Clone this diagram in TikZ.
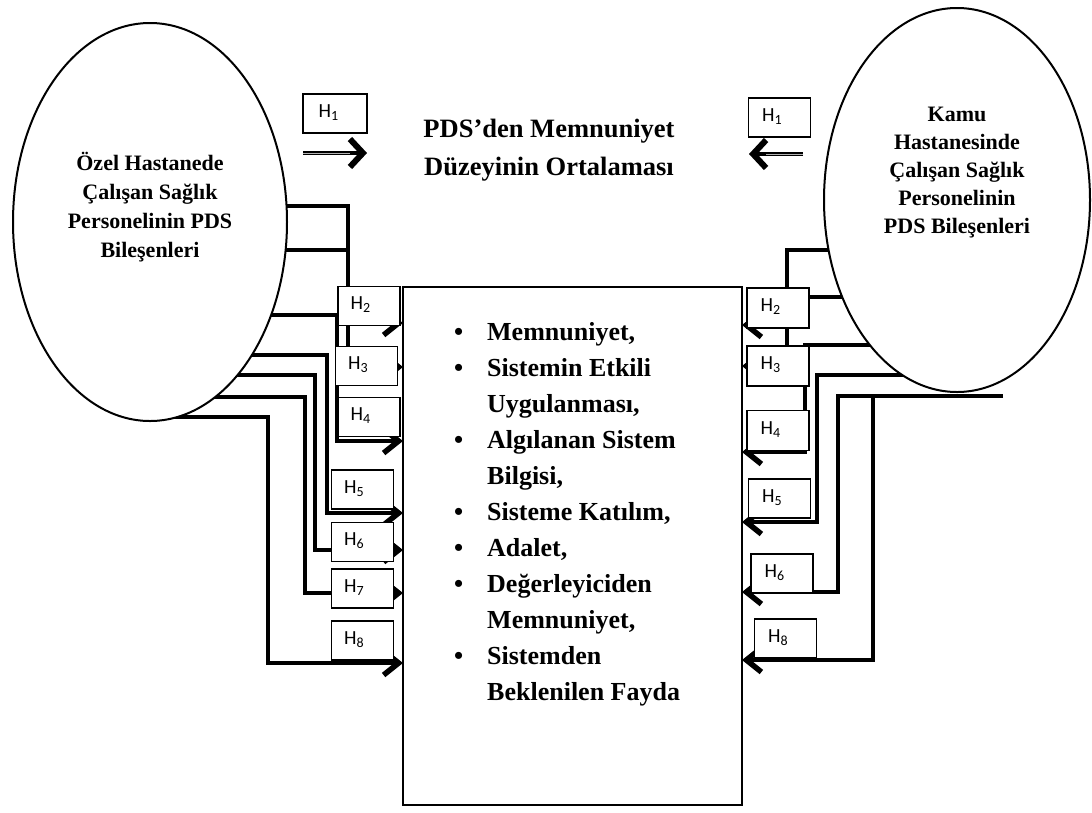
\documentclass[tikz,border=0pt]{standalone}
\usepackage{fontspec}
\setmainfont{Liberation Serif}
\newfontfamily\calib{Carlito}
\usetikzlibrary{arrows.meta,shapes.geometric}
\begin{document}
\begin{tikzpicture}[x=1pt,y=-1pt,
  conn/.style={line width=3.6pt, line join=miter},
  arr/.style={conn, -{Straight Barb[length=15pt,width=24pt,line width=5.5pt 0]}},
  hbox/.style={draw, line width=1.3pt, fill=white, minimum width=62pt, minimum height=39pt, inner sep=0pt},
  hlab/.style={anchor=west, inner sep=0pt, font=\calib\fontsize{20}{20}\selectfont},
  oval/.style={ellipse, draw, line width=2pt, fill=white, inner sep=0pt},
  bigtxt/.style={align=center, inner sep=0pt},
  harr/.style={line width=4.6pt, -{Straight Barb[length=13pt,width=28pt,line width=6pt 0]}},
  hmid/.style={gray!60, line width=1pt}
]
\useasboundingbox (0,0) rectangle (1092,812);

% ---------- left connectors ----------
\draw[arr] (240,206) -- (348,206) -- (348,367) -- (403,367) coordinate (lh3);
\draw[conn] (240,250) -- (348,250);
\draw[arr] (240,315) -- (337,315) -- (337,441) -- (403,441) coordinate (lh4);
\draw[arr] (340,323) -- (403,323) coordinate (lh2);
\draw[arr] (220,355) -- (327,355) -- (327,513) -- (403,513) coordinate (lh5);
\draw[arr] (210,375) -- (315,375) -- (315,550) -- (403,550) coordinate (lh6);
\draw[arr] (190,397) -- (305,397) -- (305,593) -- (403,593) coordinate (lh7);
\draw[arr] (170,417) -- (268,417) -- (268,663) -- (403,663) coordinate (lh8);

% ---------- right connectors ----------
\draw[arr] (900,250) -- (787,250) -- (787,366) -- (742,366) coordinate (rh3);
\draw[arr] (900,297) -- (790,297) -- (790,325) -- (742,325) coordinate (rh2);
\draw[arr] (920,345) -- (805,345) -- (805,452) -- (742,452) coordinate (rh4);
\draw[arr] (930,375) -- (817,375) -- (817,522) -- (742,522) coordinate (rh5);
\draw[arr] (1003,396) -- (838,396) -- (838,592) -- (742,592) coordinate (rh6);
\draw[arr] (873,396) -- (873,660) -- (742,660) coordinate (rh8);

% ---------- ellipses ----------
\node[oval, minimum width=274pt, minimum height=398pt] (le) at (150,222) {};
\node[oval, minimum width=266pt, minimum height=384pt] (re) at (957,200) {};

\node[bigtxt, font=\bfseries\fontsize{22}{29}\selectfont] (lt) at (150,207)
  {Özel Hastanede\\Çalışan Sağlık\\Personelinin PDS\\Bileşenleri};
\node[bigtxt, font=\bfseries\fontsize{22}{28}\selectfont] (rt) at (957,173)
  {Kamu\\Hastanesinde\\Çalışan Sağlık\\Personelinin\\PDS Bileşenleri};

% ---------- central box ----------
\node[draw, line width=2pt, minimum width=339pt, minimum height=518pt, inner sep=0pt] (cbox) at (572.5,546) {};
\node[anchor=north west, inner sep=0pt, align=left, font=\bfseries\fontsize{26}{36}\selectfont] (list) at (454,322)
  {\makebox[33pt][l]{\textbullet}Memnuniyet,\\
   \makebox[33pt][l]{\textbullet}Sistemin Etkili\\
   \hspace*{33pt}Uygulanması,\\
   \makebox[33pt][l]{\textbullet}Algılanan Sistem\\
   \hspace*{33pt}Bilgisi,\\
   \makebox[33pt][l]{\textbullet}Sisteme Katılım,\\
   \makebox[33pt][l]{\textbullet}Adalet,\\
   \makebox[33pt][l]{\textbullet}Değerleyiciden\\
   \hspace*{33pt}Memnuniyet,\\
   \makebox[33pt][l]{\textbullet}Sistemden\\
   \hspace*{33pt}Beklenilen Fayda};

% ---------- title ----------
\node[bigtxt, font=\bfseries\fontsize{26.5}{38}\selectfont] (title) at (549,150)
  {PDS’den Memnuniyet\\Düzeyinin Ortalaması};

% ---------- H1 arrows ----------
\coordinate (l1s) at (303,153);
\coordinate (l1e) at (367,153);
\coordinate (r1s) at (803,154);
\coordinate (r1e) at (749,154);
\draw[harr] (l1s) -- (l1e);
\draw[hmid] (l1s) -- (350,153);
\draw[harr] (r1s) -- (r1e);
\draw[hmid] (r1s) -- (766,154);

% ---------- H boxes ----------
\node[hbox, minimum width=64pt] (bl1) at (335,113.5) {};
\node[hbox] (bl2) at (369,306) {};
\node[hbox] (bl3) at (366.5,366) {};
\node[hbox] (bl4) at (369,417) {};
\node[hbox] (bl5) at (362.5,489.5) {};
\node[hbox] (bl6) at (362.5,542) {};
\node[hbox] (bl7) at (362.5,588.5) {};
\node[hbox] (bl8) at (362.5,640.5) {};
\node[hbox] (br1) at (779.5,117.5) {};
\node[hbox, minimum height=40pt] (br2) at (778,308) {};
\node[hbox, minimum height=40pt] (br3) at (778,366) {};
\node[hbox, minimum height=40pt] (br4) at (778,430.5) {};
\node[hbox] (br5) at (779.5,498.5) {};
\node[hbox] (br6) at (782,573.5) {};
\node[hbox] (br8) at (785.5,638.5) {};

\node[hlab] (tl1) at ([xshift=16pt,yshift=1pt]bl1.west) {H\textsubscript{1}};
\node[hlab] (tl2) at ([xshift=13pt,yshift=1pt]bl2.west) {H\textsubscript{2}};
\node[hlab] (tl3) at ([xshift=13pt,yshift=1pt]bl3.west) {H\textsubscript{3}};
\node[hlab] (tl4) at ([xshift=13pt,yshift=1pt]bl4.west) {H\textsubscript{4}};
\node[hlab] (tl5) at ([xshift=13pt,yshift=1pt]bl5.west) {H\textsubscript{5}};
\node[hlab] (tl6) at ([xshift=13pt,yshift=1pt]bl6.west) {H\textsubscript{6}};
\node[hlab] (tl7) at ([xshift=13pt,yshift=1pt]bl7.west) {H\textsubscript{7}};
\node[hlab] (tl8) at ([xshift=13pt,yshift=1pt]bl8.west) {H\textsubscript{8}};
\node[hlab] (tr1) at ([xshift=14pt,yshift=1pt]br1.west) {H\textsubscript{1}};
\node[hlab] (tr2) at ([xshift=14pt,yshift=1pt]br2.west) {H\textsubscript{2}};
\node[hlab] (tr3) at ([xshift=14pt,yshift=1pt]br3.west) {H\textsubscript{3}};
\node[hlab] (tr4) at ([xshift=14pt,yshift=1pt]br4.west) {H\textsubscript{4}};
\node[hlab] (tr5) at ([xshift=14pt,yshift=1pt]br5.west) {H\textsubscript{5}};
\node[hlab] (tr6) at ([xshift=14pt,yshift=1pt]br6.west) {H\textsubscript{6}};
\node[hlab] (tr8) at ([xshift=14pt,yshift=1pt]br8.west) {H\textsubscript{8}};
\end{tikzpicture}
\end{document}
